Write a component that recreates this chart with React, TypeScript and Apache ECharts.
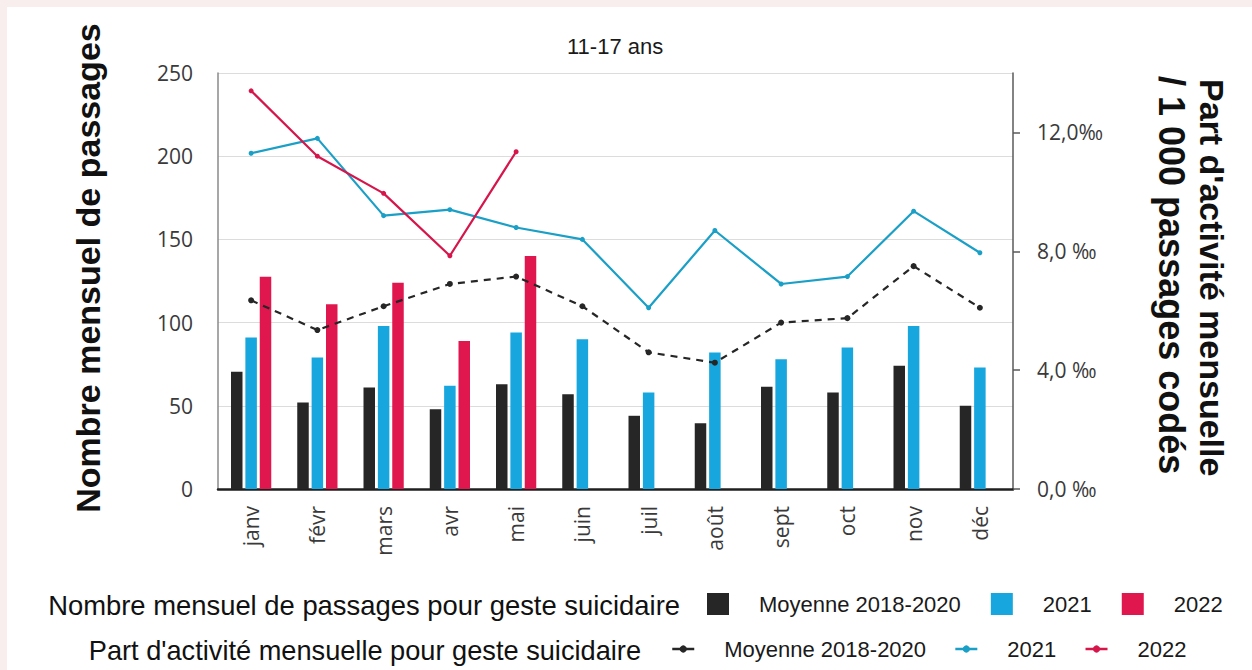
import React, { useEffect, useRef } from 'react';
import * as echarts from 'echarts';

const months = ['janv', 'févr', 'mars', 'avr', 'mai', 'juin', 'juil', 'août', 'sept', 'oct', 'nov', 'déc'];

// Nombre mensuel de passages (left axis)
const barMoyenne = [70.5, 52, 61, 48, 63, 57, 44, 39.5, 61.5, 58, 74, 50];
const bar2021 = [91, 79, 98, 62, 94, 90, 58, 82, 78, 85, 98, 73];
const bar2022 = [127.5, 111, 124, 89, 140, null, null, null, null, null, null, null];

// Part d'activité mensuelle / 1 000 passages codés (right axis, ‰)
const partMoyenne = [6.35, 5.35, 6.15, 6.9, 7.15, 6.15, 4.6, 4.25, 5.6, 5.75, 7.5, 6.1];
const part2021 = [11.3, 11.8, 9.2, 9.4, 8.8, 8.4, 6.1, 8.7, 6.9, 7.15, 9.35, 7.95];
const part2022 = [13.4, 11.2, 9.95, 7.85, 11.35, null, null, null, null, null, null, null];

const leftMin = 0;
const leftMax = 250;
const leftInterval = 50;
const rightMin = 0;
const rightMax = 14;
const rightTickValues = [0, 4, 8, 12];

const seriesNames = ['Moyenne 2018-2020', '2021', '2022'];
const lineSuffix = ' (part)';

const title = '11-17 ans';
const leftAxisName = 'Nombre mensuel de passages';
const rightAxisName1 = "Part d'activité mensuelle";
const rightAxisName2 = '/ 1 000 passages codés';
const legendLabel1 = 'Nombre mensuel de passages pour geste suicidaire';
const legendLabel2 = "Part d'activité mensuelle pour geste suicidaire";

const C_BLACK = '#262626';
const C_BLUE_BAR = '#17a6de';
const C_RED_BAR = '#e0174e';
const C_BLUE_LINE = '#1a9fc6';
const C_RED_LINE = '#d6164b';
const ARIAL = '"Liberation Sans", Arial, sans-serif';
const CAL = '"Open Sans", Lato, sans-serif';

export default function App() {
  const ref = useRef<HTMLDivElement>(null);

  useEffect(() => {
    if (!ref.current) return;
    const chart = echarts.init(ref.current, null, { renderer: 'svg' });
    const option: any = {
      animation: false,
      backgroundColor: 'transparent',
      title: {
        text: title,
        left: 562,
        top: 30,
        textStyle: { fontFamily: ARIAL, fontSize: 22, fontWeight: 'normal', color: '#1a1a1a' },
      },
      grid: { left: 218, right: 239, top: 73, bottom: 181, containLabel: false },
      xAxis: {
        type: 'category',
        data: months,
        boundaryGap: true,
        axisLine: { show: true, lineStyle: { color: '#1f1f1f', width: 2.5 } },
        axisTick: { show: false },
        axisLabel: {
          rotate: 90,
          margin: 17,
          fontFamily: CAL,
          fontSize: 21,
          color: '#3a3a3a',
          interval: 0,
        },
      },
      yAxis: [
        {
          type: 'value',
          min: leftMin,
          max: leftMax,
          interval: leftInterval,
          position: 'left',
          axisLine: { show: true, lineStyle: { color: '#8a8a8a', width: 1.5 } },
          axisTick: { show: false },
          axisLabel: { margin: 25, fontFamily: CAL, fontSize: 21, color: '#3a3a3a' },
          splitLine: { show: true, lineStyle: { color: '#dcdcdc', width: 1.2 } },
        },
        {
          type: 'value',
          min: rightMin,
          max: rightMax,
          position: 'right',
          axisLine: { show: true, lineStyle: { color: '#5a5a5a', width: 1.5 } },
          axisTick: {
            show: true,
            inside: false,
            length: 7,
            customValues: rightTickValues,
            lineStyle: { color: '#5a5a5a', width: 1.5 },
          },
          axisLabel: {
            margin: 24,
            fontFamily: CAL,
            fontSize: 21,
            color: '#3a3a3a',
            customValues: rightTickValues,
            formatter: (v: number) => v.toFixed(1).replace('.', ',') + (v >= 10 ? '‰' : ' ‰'),
          },
          splitLine: { show: false },
        },
      ],
      legend: [
        {
          data: seriesNames,
          left: 702,
          top: 588,
          orient: 'horizontal',
          icon: 'rect',
          itemWidth: 22,
          itemHeight: 22,
          itemGap: 30,
          textStyle: { fontFamily: ARIAL, fontSize: 22, color: '#1a1a1a', padding: [0, 0, 0, 25] },
          selectedMode: false,
        },
        {
          data: seriesNames.map((n) => n + lineSuffix),
          left: 666,
          top: 633,
          orient: 'horizontal',
          itemWidth: 22,
          itemHeight: 9,
          itemGap: 28,
          formatter: (n: string) => n.replace(lineSuffix, ''),
          lineStyle: { type: 'solid', width: 2.5 },
          textStyle: { fontFamily: ARIAL, fontSize: 22, color: '#1a1a1a', padding: [0, 0, 0, 25] },
          selectedMode: false,
        },
      ],
      graphic: [
        {
          type: 'text',
          x: 88,
          y: 268,
          rotation: Math.PI / 2,
          style: {
            text: leftAxisName,
            fontFamily: ARIAL,
            fontSize: 34,
            fontWeight: 'bold',
            fill: '#111',
            textAlign: 'center',
            textVerticalAlign: 'middle',
          },
        },
        {
          type: 'text',
          x: 1212,
          y: 79,
          rotation: -Math.PI / 2,
          style: {
            text: rightAxisName1,
            fontFamily: ARIAL,
            fontSize: 34,
            fontWeight: 'bold',
            fill: '#111',
            textAlign: 'left',
            textVerticalAlign: 'middle',
          },
        },
        {
          type: 'text',
          x: 1171,
          y: 76,
          rotation: -Math.PI / 2,
          style: {
            text: rightAxisName2,
            fontFamily: ARIAL,
            fontSize: 36,
            fontWeight: 'bold',
            fill: '#111',
            textAlign: 'left',
            textVerticalAlign: 'middle',
          },
        },
        {
          type: 'text',
          x: 680,
          y: 605,
          style: {
            text: legendLabel1,
            fontFamily: ARIAL,
            fontSize: 27.4,
            fill: '#111',
            textAlign: 'right',
            textVerticalAlign: 'middle',
          },
        },
        {
          type: 'text',
          x: 641,
          y: 650,
          style: {
            text: legendLabel2,
            fontFamily: ARIAL,
            fontSize: 27.2,
            fill: '#111',
            textAlign: 'right',
            textVerticalAlign: 'middle',
          },
        },
      ],
      series: [
        {
          name: seriesNames[0],
          type: 'bar',
          yAxisIndex: 0,
          data: barMoyenne,
          barWidth: 11.5,
          barGap: '25%',
          itemStyle: { color: C_BLACK },
        },
        {
          name: seriesNames[1],
          type: 'bar',
          yAxisIndex: 0,
          data: bar2021,
          barWidth: 11.5,
          barGap: '25%',
          itemStyle: { color: C_BLUE_BAR },
        },
        {
          name: seriesNames[2],
          type: 'bar',
          yAxisIndex: 0,
          data: bar2022,
          barWidth: 11.5,
          barGap: '25%',
          itemStyle: { color: C_RED_BAR },
        },
        {
          name: seriesNames[0] + lineSuffix,
          type: 'line',
          yAxisIndex: 1,
          data: partMoyenne,
          symbol: 'circle',
          symbolSize: 6,
          lineStyle: { color: C_BLACK, width: 2.2, type: [7, 6] },
          itemStyle: { color: C_BLACK },
          z: 5,
        },
        {
          name: seriesNames[1] + lineSuffix,
          type: 'line',
          yAxisIndex: 1,
          data: part2021,
          symbol: 'circle',
          symbolSize: 5,
          lineStyle: { color: C_BLUE_LINE, width: 2.2 },
          itemStyle: { color: C_BLUE_LINE },
          z: 5,
        },
        {
          name: seriesNames[2] + lineSuffix,
          type: 'line',
          yAxisIndex: 1,
          data: part2022,
          symbol: 'circle',
          symbolSize: 5,
          lineStyle: { color: C_RED_LINE, width: 2.2 },
          itemStyle: { color: C_RED_LINE },
          z: 5,
        },
      ],
    };
    chart.setOption(option);
    return () => {
      chart.dispose();
    };
  }, []);

  return (
    <div style={{ position: 'fixed', left: 0, top: 0, width: 1252, height: 670, background: '#f9eeee' }}>
      <div style={{ position: 'absolute', left: 7, top: 7, width: 1245, height: 663, background: '#ffffff' }} />
      <div ref={ref} style={{ position: 'absolute', left: 0, top: 0, width: 1252, height: 670 }} />
    </div>
  );
}
